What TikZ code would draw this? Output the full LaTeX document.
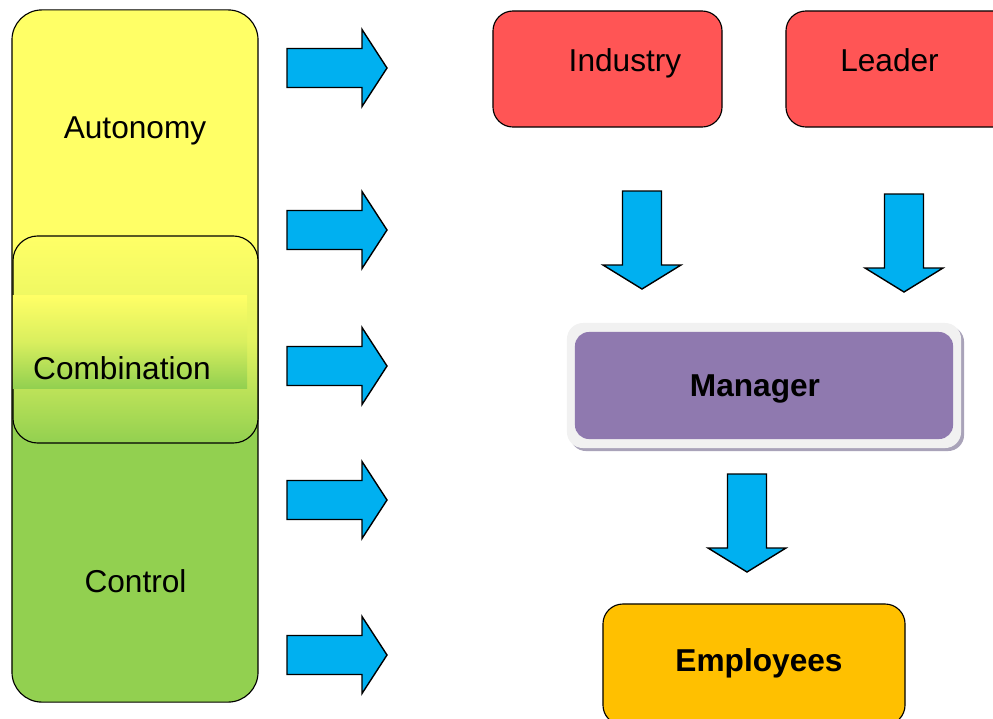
\documentclass[tikz,border=0pt]{standalone}
\usepackage{fontspec}
\setmainfont{Liberation Sans}
\usetikzlibrary{positioning}

\definecolor{autoyellow}{HTML}{FFFF66}
\definecolor{ctrlgreen}{HTML}{92D050}
\definecolor{boxred}{HTML}{FF5555}
\definecolor{mgrpurple}{HTML}{8F79AF}
\definecolor{mgrframe}{HTML}{F1F1F1}
\definecolor{mgrshadow}{HTML}{A9A3B9}
\definecolor{empgold}{HTML}{FFC000}
\definecolor{arrowblue}{HTML}{00B0F0}

\begin{document}
\begin{tikzpicture}[x=0.025cm, y=-0.025cm,
box/.style={draw=black, line width=0.8pt, inner sep=0pt},
lbl/.style={font=\fontsize{22.5}{27}\selectfont, inner sep=0pt, text height=0.716em, text depth=0pt},
blockarrow/.style={draw=black, line width=1pt, fill=arrowblue, line join=miter},
rarrow/.pic={\draw[blockarrow] (0,-19.5) -- (75,-19.5) -- (75,-38.5) -- (100,0) -- (75,38.5) -- (75,19.5) -- (0,19.5) -- cycle;},
darrow/.pic={\draw[blockarrow] (-19.5,0) -- (-19.5,74) -- (-39,74) -- (0,98) -- (39,74) -- (19.5,74) -- (19.5,0) -- cycle;}]

\useasboundingbox (0,0) rectangle (993,718);
\clip (0,0) rectangle (993,718);

% left column
\node[box, rounded corners=0.75cm, minimum width=6.15cm, minimum height=17.3cm, fill=autoyellow,
  path picture={\fill[ctrlgreen] (path picture bounding box.west) rectangle (path picture bounding box.south east);}]
  (scale) at (135,356) {};
\node[box, rounded corners=0.62cm, minimum width=6.125cm, minimum height=5.175cm,
  top color=autoyellow, bottom color=ctrlgreen, middle color=ctrlgreen!25!autoyellow]
  (combo) at (135.5,339.5) {};
\node[inner sep=0pt, minimum width=5.85cm, minimum height=2.3cm,
  top color=autoyellow, bottom color=ctrlgreen, middle color=ctrlgreen!35!autoyellow]
  (comboband) at (130,342) {};

\node[lbl] (autonomy) at (135,133) {Autonomy};
\node[lbl] (combination) at (122,374) {Combination};
\node[lbl] (control) at (135.5,587) {Control};

% arrows towards the right
\pic (ra1) at (287,68) {rarrow};
\pic (ra2) at (287,230) {rarrow};
\pic (ra3) at (287,366) {rarrow};
\pic (ra4) at (287,500) {rarrow};
\pic (ra5) at (287,655) {rarrow};

% right side
\node[box, rounded corners=0.5cm, minimum width=5.725cm, minimum height=2.9cm, fill=boxred]
  (industry) at (607.5,69) {};
\node[box, rounded corners=0.5cm, minimum width=5.725cm, minimum height=2.9cm, fill=boxred]
  (leader) at (900.5,69) {};
\node[lbl] (industrytext) at (625,66) {Industry};
\node[lbl] (leadertext) at (889.5,66) {Leader};

\pic (da1) at (642,191) {darrow};
\pic (da2) at (904,194) {darrow};

\node[inner sep=0pt, rounded corners=0.4cm, minimum width=9.85cm, minimum height=3.125cm, fill=mgrshadow]
  (managershadow) at (767,388.5) {};
\node[inner sep=0pt, rounded corners=0.4cm, minimum width=9.85cm, minimum height=3.125cm, fill=mgrframe]
  (managerframe) at (764,385.5) {};
\node[inner sep=0pt, rounded corners=0.35cm, minimum width=9.45cm, minimum height=2.675cm, fill=mgrpurple]
  (manager) at (764,385.5) {};
\node[lbl, font=\fontsize{22.5}{27}\selectfont\bfseries] (managertext) at (755,391) {Manager};

\pic (da3) at (747,474) {darrow};

\node[box, rounded corners=0.5cm, minimum width=7.55cm, minimum height=3.025cm, fill=empgold]
  (employees) at (754,664.5) {};
\node[lbl, font=\fontsize{22.5}{27}\selectfont\bfseries] (employeestext) at (759,666) {Employees};
\end{tikzpicture}
\end{document}
